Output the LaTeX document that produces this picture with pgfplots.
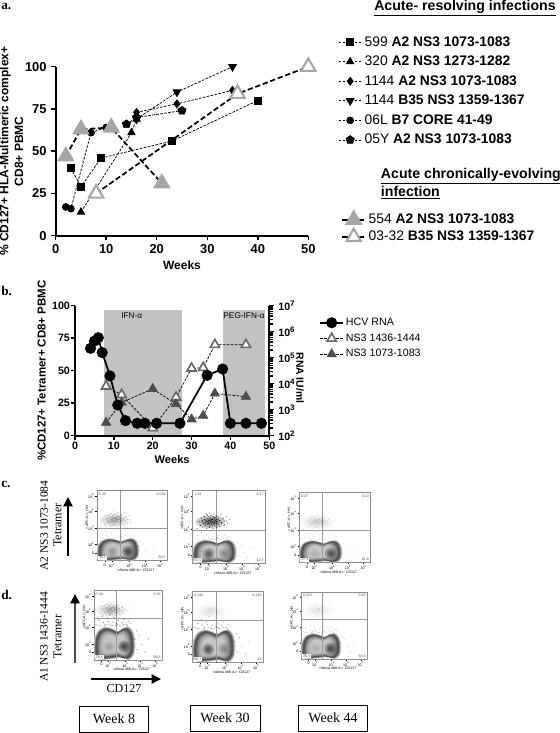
\documentclass[border=0pt]{standalone}
\usepackage{fontspec}
\setmainfont{Liberation Sans}
\newfontfamily\tms{Liberation Serif}
\usepackage{pgfplots}
\pgfplotsset{compat=1.18}
\usepackage{pgfplotstable}
\usetikzlibrary{plotmarks,arrows.meta}
\newcommand{\fs}[1]{\fontsize{#1}{10}\selectfont}
\newcommand{\sq}[1]{10\textsuperscript{#1}}
\definecolor{tri1}{HTML}{A6A6A6}
\definecolor{shade}{HTML}{C2C2C2}
\definecolor{tdark}{HTML}{4D4D4D}
\definecolor{topen}{HTML}{666666}
\pgfplotstableread{
x y
.02 .03
.01 .12
.03 .22
.08 .28
.18 .31
.28 .29
.35 .27
.42 .30
.50 .31
.56 .26
.585 .16
.57 .06
.50 .01
.36 .03
.28 .02
.12 .01
.02 .03
}\blobT
\pgfplotstableread{
x y
.06 .03
.09 .12
.11 .07
.12 .17
.14 .04
.15 .10
.16 .19
.17 .07
.18 .14
.19 .03
.19 .22
.20 .09
.20 .16
.21 .06
.21 .12
.22 .19
.22 .14
.23 .08
.23 .04
.24 .11
.24 .17
.25 .06
.25 .21
.26 .13
.26 .09
.27 .16
.28 .03
.28 .11
.29 .18
.30 .07
.30 .13
.31 .10
.32 .16
.33 .04
.34 .12
.35 .20
.36 .08
.37 .14
.39 .05
.40 .11
.42 .17
.44 .08
.47 .13
.13 .13
.17 .11
.19 .12
.21 .10
.23 .13
.25 .11
.27 .12
.29 .10
.31 .13
.24 .14
.22 .10
.26 .15
.20 .13
.28 .15
.18 .09
.33 .09
.16 .15
}\cloudT
\pgfplotstableread{
x y
.03 .34
.07 .38
.09 .33
.12 .42
.14 .36
.17 .34
.19 .40
.21 .37
.24 .45
.25 .33
.28 .36
.30 .41
.33 .35
.36 .38
.38 .33
.41 .36
.44 .39
.47 .34
.50 .37
.53 .35
.06 .33
.15 .33
.22 .34
.27 .33
.31 .33
.35 .34
.43 .34
.49 .33
.60 .20
.63 .10
.66 .24
.70 .15
.75 .08
.62 .28
.80 .20
}\haloT
\newcommand{\blobp}[2]{\addplot[fill=#2,draw=none,smooth] table[x expr={.29+#1*(\thisrow{x}-.29)},y expr={(.15+#1*(\thisrow{y}-.15))*\bs}] {\blobT};}
\pgfplotsset{softdot/.style n args={2}{only marks,mark=*,mark size=#1,mark options={fill=black,fill opacity=#2,draw opacity=0}}}
% one flow-cytometry panel: left top right bottom quadx quady blobscale cloudopacity haloopacity
\newcommand{\facs}[9]{%
\pgfmathsetlengthmacro{\fw}{(#3-#1)*0.75pt}%
\pgfmathsetlengthmacro{\fh}{(#4-#2)*0.75pt}%
\def\bs{#7}%
\pgfmathsetmacro{\ya}{.125*#7}%
\pgfmathsetmacro{\yb}{.13*#7}%
\pgfmathsetmacro{\yc}{#6+.12}%
\pgfmathsetmacro{\core}{#8*.3}%
\begin{axis}[at={(#1*.75pt,-#4*.75pt)},anchor=south west,scale only axis,width=\fw,height=\fh,
 xmin=0,xmax=1,ymin=0,ymax=1,axis line style={draw=black!45,line width=.4pt},
 xtick={.11,.21,.46,.68,.9},xticklabels={0,\sq{2},\sq{3},\sq{4},\sq{5}},
 ytick={.11,.23,.47,.71,.92},yticklabels={0,\sq{2},\sq{3},\sq{4},\sq{5}},
 tick align=outside,major tick length=1.2pt,tick style={black,line width=.3pt},xtick pos=lower,ytick pos=left,
 tick label style={font=\fs{2.7},inner sep=.5pt},
 xticklabel style={yshift=-.2pt},yticklabel style={xshift=-.2pt},
 xlabel={<Alexa 488-A>: CD127},ylabel={<APC-A>: HIV},
 xlabel style={font=\fs{2.7},at={(axis description cs:.55,-.14)},anchor=center},
 ylabel style={font=\fs{2.7},at={(axis description cs:-.145,.62)},anchor=center}]
\addplot[softdot={.45pt}{#9}] table[x=x,y expr={\thisrow{y}*\bs}] {\haloT};
\addplot[softdot={.45pt}{#8}] table[x=x,y expr={\thisrow{y}+#6}] {\cloudT};
\addplot[softdot={.4pt}{#8}] table[x expr={\thisrow{x}+.04},y expr={\thisrow{y}+#6+.02}] {\cloudT};
\addplot[only marks,mark=*,mark size=5pt,mark options={fill=black,fill opacity=\core,draw opacity=0,xscale=2.2,yscale=.9}] coordinates {(.24,\yc)};
\addplot[only marks,mark=*,mark size=3pt,mark options={fill=black,fill opacity=\core,draw opacity=0,xscale=2.4,yscale=.9}] coordinates {(.24,\yc)};
\blobp{1.07}{black!18}
\blobp{1.02}{black!45}
\blobp{.97}{black!65}
\blobp{.92}{black!68}
\blobp{.86}{black!58}
\blobp{.80}{black!46}
\blobp{.73}{black!36}
\blobp{.65}{black!28}
\blobp{.55}{black!22}
\addplot[softdot={4.4pt}{\sa}] coordinates {(.22,\ya)};
\addplot[softdot={3pt}{\sa}] coordinates {(.22,\ya)};
\addplot[softdot={1.8pt}{\sa}] coordinates {(.22,\ya)};
\addplot[softdot={4.4pt}{\sb}] coordinates {(.44,\yb)};
\addplot[softdot={3pt}{\sb}] coordinates {(.44,\yb)};
\addplot[softdot={1.8pt}{\sb}] coordinates {(.44,\yb)};
\addplot[black!40,line width=.4pt] coordinates {(#5,0)(#5,1)};
\addplot[black!40,line width=.4pt] coordinates {(0,#6)(1,#6)};
\node[font=\fs{2.7},text=black!70,anchor=north west,inner sep=.6pt] at (rel axis cs:.01,.985) {\la};
\node[font=\fs{2.7},text=black!70,anchor=north east,inner sep=.6pt] at (rel axis cs:.99,.985) {\lb};
\node[font=\fs{2.7},text=black!70,anchor=south west,inner sep=.6pt,fill=white] at (rel axis cs:.01,.01) {\lc};
\node[font=\fs{2.7},text=black!70,anchor=south east,inner sep=.6pt] at (rel axis cs:.99,.01) {\ld};
\end{axis}}
\begin{document}
\begin{tikzpicture}
\useasboundingbox (0,0) rectangle (420pt,-549.75pt);
% ---------- panel a
\pgfplotsset{boldticks/.style={
  /pgf/number format/assume math mode=true,
  tick label style={font=\bfseries\fs{#1}},
  tick align=outside,major tick length=3.3pt,tick style={black,line width=1.1pt},
  axis line style={line width=1.3pt},
  xtick pos=lower},
 thin dash/.style={black,line width=.55pt,dash pattern=on 2pt off 1pt,mark options={solid,fill=black}},
 thick dash/.style={black,line width=1.3pt,dash pattern=on 4pt off 2pt}}
\begin{axis}[at={(55.7*.75pt,-235.7*.75pt)},anchor=south west,scale only axis,width=189.45pt,height=126.75pt,
 xmin=0,xmax=50,ymin=0,ymax=100,clip=false,boldticks=9.7,
 axis x line*=bottom,axis y line*=left,
 xtick={0,10,20,30,40,50},ytick={0,25,50,75,100},
 xlabel={\textbf{Weeks}},
 xlabel style={font=\fs{9},at={(axis description cs:.5,-.173)},anchor=center},
 ylabel style={font=\bfseries\fs{9},align=center,at={(axis description cs:-.175,.5)},anchor=center},
 ylabel={\% CD127+ HLA-Multimeric complex+\\[1pt]CD8+ PBMC},
 legend style={at={(axis description cs:1.113,1.205)},anchor=north west,draw=none,fill=none,
   font=\fs{10.4},row sep=1.9pt,inner sep=1pt},legend cell align=left]
\addplot[thin dash,mark=square*,mark size=2.6pt] coordinates {(3,40)(5,29)(9,46)(23,56)(40,80)};
\addlegendentry{599 \textbf{A2 NS3 1073-1083}}
\addplot[thin dash,mark=triangle*,mark size=3.2pt] coordinates {(5,14)(15,61)(16,69)};
\addlegendentry{320 \textbf{A2 NS3 1273-1282}}
\addplot[thin dash,mark=diamond*,mark size=3pt] coordinates {(16,73)(24,78)(35,86)};
\addlegendentry{1144 \textbf{A2 NS3 1073-1083}}
\addplot[thin dash,mark=triangle*,mark size=3.4pt,mark options={solid,fill=black,rotate=180}] coordinates {(16,69)(24,85)(35,100)};
\addlegendentry{1144 \textbf{B35 NS3 1359-1367}}
\addplot[thin dash,mark=*,mark size=2.6pt] coordinates {(2,17)(3,16)(7,61)(10,64)};
\addlegendentry{06L \textbf{B7 CORE 41-49}}
\addplot[thin dash,mark=pentagon*,mark size=3.2pt] coordinates {(14,66)(16,70)(25,74)};
\addlegendentry{05Y \textbf{A2 NS3 1073-1083}}
\end{axis}
\begin{axis}[at={(55.7*.75pt,-235.7*.75pt)},anchor=south west,scale only axis,width=189.45pt,height=126.75pt,
 xmin=0,xmax=50,ymin=0,ymax=100,clip=false,hide axis,
 legend style={at={(axis description cs:1.125,.155)},anchor=north west,draw=none,fill=none,
   font=\fs{10.4},row sep=.2pt,inner sep=1pt},legend cell align=left]
\addplot[thick dash,mark=triangle*,mark size=6.4pt,mark options={solid,draw=tri1,fill=tri1}] coordinates {(2,47)(5,63)(11,64)(21,31)};
\addlegendentry{554 \textbf{A2 NS3 1073-1083}}
\addplot[thick dash,mark=triangle*,mark size=6.2pt,mark options={solid,draw=tri1,fill=white,line width=1.6pt}] coordinates {(8,25)(36,84)(50,100)};
\addlegendentry{03-32 \textbf{B35 NS3 1359-1367}}
\end{axis}
% ---------- panel b
\begin{axis}[at={(75*.75pt,-435.7*.75pt)},anchor=south west,scale only axis,width=145.7pt,height=97.5pt,
 xmin=0,xmax=50,ymin=0,ymax=100,clip=false,boldticks=8,axis on top,
 axis x line*=bottom,axis y line*=left,
 xtick={0,10,20,30,40,50},ytick={0,25,50,75,100},
 yticklabel style={xshift=3pt},xticklabel style={yshift=2.4pt},
 xlabel={\textbf{Weeks}},
 xlabel style={font=\fs{8.3},at={(axis description cs:.5,-.187)},anchor=center},
 ylabel style={font=\bfseries\fs{8.6},at={(axis description cs:-.171,.5)},anchor=center},
 ylabel={\%CD127+ Tetramer+ CD8+ PBMC},
 legend style={at={(axis description cs:1.25,.938)},anchor=north west,draw=none,fill=none,
   font=\fs{8},row sep=.7pt,inner sep=1pt,nodes={inner xsep=1.5pt}},legend cell align=left]
\addplot[fill=shade,draw=none,forget plot] coordinates {(7.5,0)(27.6,0)(27.6,96.7)(7.5,96.7)} --cycle;
\addplot[fill=shade,draw=none,forget plot] coordinates {(38,0)(48.9,0)(48.9,96.7)(38,96.7)} --cycle;
\addlegendimage{black,line width=1.3pt,mark=*,mark size=3.5pt,mark options={solid,fill=black}}
\addlegendentry{HCV RNA}
\addplot[black,line width=.55pt,dash pattern=on 2pt off 1pt,mark=triangle*,mark size=4pt,mark options={solid,draw=topen,fill=white,line width=1.2pt}] coordinates {(8,38)(12,31.5)(20,6)(26,29.5)(30,51.8)(33,52.3)(36,70)(44,70)};
\addlegendentry{NS3 1436-1444}
\addplot[black,line width=.55pt,dash pattern=on 2pt off 1pt,mark=triangle*,mark size=4pt,mark options={solid,draw=tdark,fill=tdark}] coordinates {(8,10)(12,25.6)(20,36)(26,24.4)(30,12.6)(33,15.4)(36,32.5)(44,30)};
\addlegendentry{NS3 1073-1083}
\node[font=\fs{6.2}] at (axis cs:14.6,92) {IFN-α};
\node[font=\fs{6.2}] at (axis cs:43.5,92) {PEG-IFN-α};
\end{axis}
\begin{axis}[at={(75*.75pt,-435.7*.75pt)},anchor=south west,scale only axis,width=145.7pt,height=97.5pt,
 xmin=0,xmax=50,ymode=log,ymin=1e2,ymax=1e7,clip=false,boldticks=8,
 axis y line*=right,axis x line=none,
 ytick={1e2,1e3,1e4,1e5,1e6,1e7},minor ytick={},
 yticklabels={\sq{2},\sq{3},\sq{4},\sq{5},\sq{6},\sq{7}},
 ylabel style={font=\bfseries\fs{7.8},rotate=180,at={(axis description cs:1.158,.444)},anchor=center},
 ylabel={RNA IU/ml}]
\addplot[black,line width=1.3pt,mark=*,mark size=3.5pt,mark options={solid,fill=black}] coordinates {
 (4,2.29e5)(5,4.37e5)(6,5.89e5)(7,1.58e5)(9,2e4)(11,1.51e3)(13,380)(16,300)(18,300)(21,300)(27,300)(34,2.1e4)(38,3.67e4)(40,300)(44,300)(48,300)};
\end{axis}
% ---------- panels c, d
\def\sa{.08}\def\sb{.25}\def\la{0.35}\def\lb{0.038}\def\lc{49.1}\def\ld{50.5}
\facs{97}{490.7}{167.3}{560.7}{.33}{.46}{1}{.28}{.18}
\def\sa{.2}\def\sb{.1}\def\la{1.24}\def\lb{0.17}\def\lc{55.5}\def\ld{42.7}
\facs{192.7}{490.7}{265.3}{563}{.33}{.45}{1}{.7}{.25}
\def\sa{.03}\def\sb{.22}\def\la{0.27}\def\lb{0.13}\def\lc{37.3}\def\ld{61.8}
\facs{299.3}{492.7}{370.7}{562.7}{.32}{.46}{1}{.14}{.12}
\def\sa{.06}\def\sb{.25}\def\la{0.34}\def\lb{0.16}\def\lc{39.5}\def\ld{59.5}
\facs{94}{590.7}{162.3}{660}{.32}{.6}{1.5}{.25}{.5}
\def\sa{.22}\def\sb{.1}\def\la{0.141}\def\lb{0.145}\def\lc{55.7}\def\ld{43}
\facs{192.7}{591.7}{263.3}{662.3}{.33}{.6}{1.45}{.08}{.4}
\def\sa{.03}\def\sb{.24}\def\la{0.221}\def\lb{0.26}\def\lc{35.4}\def\ld{64.5}
\facs{301.3}{592}{367.3}{659}{.32}{.6}{1.2}{.07}{.22}
% ---------- text
\node[anchor=base west,inner sep=0,font=\tms\bfseries\fs{10}] at (1*.75pt,-9*.75pt) {a.};
\node[anchor=base west,inner sep=0,font=\tms\bfseries\fs{10}] at (1*.75pt,-295*.75pt) {b.};
\node[anchor=base west,inner sep=0,font=\tms\bfseries\fs{10}] at (1*.75pt,-487*.75pt) {c.};
\node[anchor=base west,inner sep=0,font=\tms\bfseries\fs{10}] at (1*.75pt,-599*.75pt) {d.};
\node[anchor=base west,inner sep=0,font=\bfseries\fs{10.6}] at (374*.75pt,-10*.75pt) {\underline{Acute- resolving infections}};
\node[anchor=base west,inner sep=0,font=\bfseries\fs{10.6}] at (380.7*.75pt,-178*.75pt) {\underline{Acute chronically-evolving}};
\node[anchor=base west,inner sep=0,font=\bfseries\fs{10.6}] at (380.7*.75pt,-196*.75pt) {\underline{infection}};
\node[rotate=90,font=\tms\fs{8.6}] at (44*.75pt,-525.5*.75pt) {A2 NS3 1073-1084};
\node[rotate=90,font=\tms\fs{9}] at (57.5*.75pt,-525*.75pt) {Tetramer};
\draw[line width=.9pt,-{Triangle[length=7pt,width=7pt]}] (68*.75pt,-556*.75pt) -- (68*.75pt,-497*.75pt);
\node[rotate=90,font=\tms\fs{8.6}] at (44*.75pt,-637*.75pt) {A1 NS3 1436-1444};
\node[rotate=90,font=\tms\fs{9}] at (57.5*.75pt,-636.5*.75pt) {Tetramer};
\draw[line width=.9pt,black!70,-{Triangle[length=7pt,width=7pt,color=black]}] (75*.75pt,-663*.75pt) -- (75*.75pt,-594*.75pt);
\draw[line width=.9pt,-{Triangle[length=7pt,width=7pt]}] (91*.75pt,-679*.75pt) -- (161*.75pt,-679*.75pt);
\node[font=\tms\fs{9}] at (124*.75pt,-688.5*.75pt) {CD127};
\draw[line width=.75pt] (79.3*.75pt,-706*.75pt) rectangle (148.7*.75pt,-732.5*.75pt);
\node[font=\tms\fs{10.5}] at (114*.75pt,-719*.75pt) {Week 8};
\draw[line width=.75pt] (190.3*.75pt,-705*.75pt) rectangle (260*.75pt,-731.5*.75pt);
\node[font=\tms\fs{10.5}] at (225*.75pt,-718*.75pt) {Week 30};
\draw[line width=.75pt] (298.3*.75pt,-705*.75pt) rectangle (367.3*.75pt,-731.5*.75pt);
\node[font=\tms\fs{10.5}] at (333*.75pt,-718*.75pt) {Week 44};
\end{tikzpicture}
\end{document}
